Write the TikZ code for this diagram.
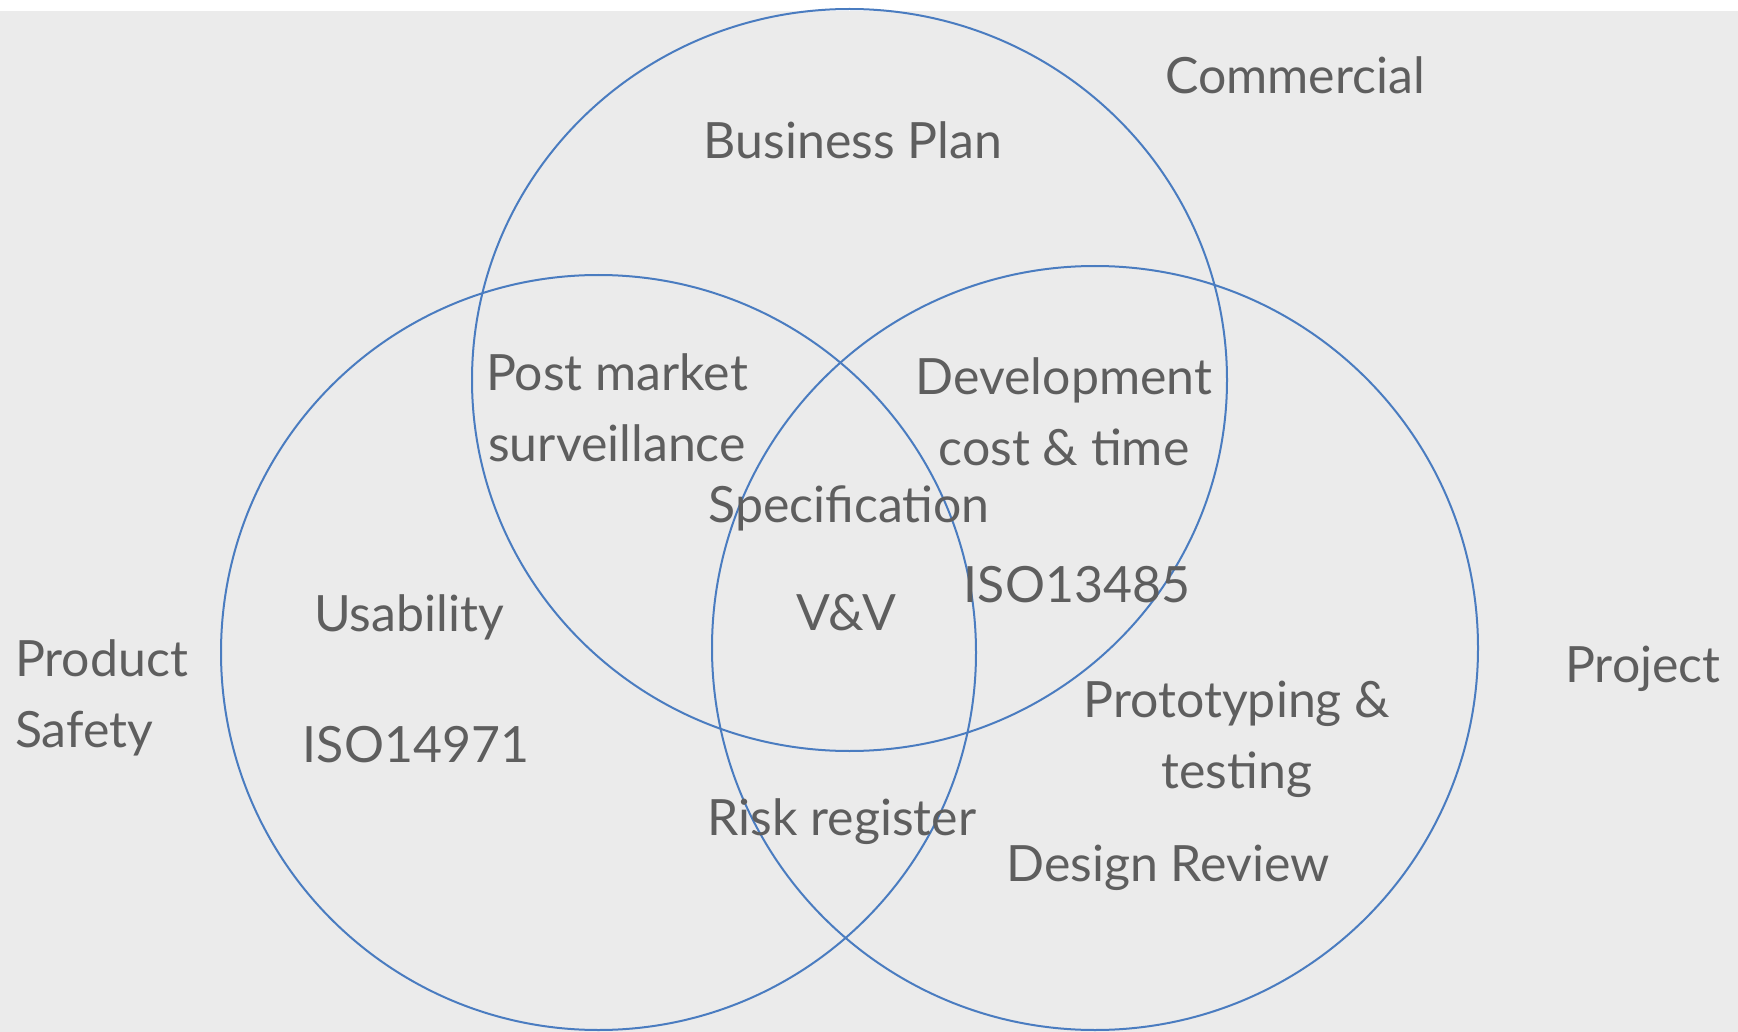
\documentclass[tikz,border=0pt]{standalone}
\usepackage{fontspec}
\setmainfont{Lato}
\begin{document}
\begin{tikzpicture}[x=1pt,y=-1pt,
  venn/.style={draw=vennblue,line width=2pt},
  lbl/.style={text=txtgray,font=\fontsize{50}{71}\selectfont,anchor=base,inner sep=0pt,align=center}]
\definecolor{vennblue}{HTML}{4A7CC0}
\definecolor{txtgray}{HTML}{5E5E5E}
\definecolor{bggray}{HTML}{EBEBEB}
\useasboundingbox (0,0) rectangle (1738,1032);
\fill[white] (0,0) rectangle (1738,1032);
\fill[bggray] (0,11) rectangle (1738,1032);
% circles
\draw[venn] (849.5,380) ellipse [x radius=377.5pt, y radius=371pt];
\draw[venn] (598.5,652.5) ellipse [x radius=377.5pt, y radius=377.5pt];
\draw[venn] (1095,648) ellipse [x radius=383pt, y radius=382pt];
% labels (multi-line nodes: base = baseline of last line)
\node[lbl] (commercial) at (1295,94) {Commercial};
\node[lbl,anchor=base west,align=left] (safety) at (15,747) {Product\\Safety};
\node[lbl] (project) at (1643,682) {Project};
\node[lbl] (bplan) at (853,159) {Business Plan};
\node[lbl] (pms) at (617,461) {Post market\\surveillance};
\node[lbl] (dev) at (1064,465) {Development\\cost \& time};
\node[lbl] (spec) at (849,522) {Specification};
\node[lbl] (iso13485) at (1077,602) {ISO13485};
\node[lbl] (usab) at (409,631) {Usability};
\node[lbl] (vv) at (846,630) {V\&V};
\node[lbl] (iso14971) at (416,762) {ISO14971};
\node[lbl] (proto) at (1237,788) {Prototyping \&\\testing};
\node[lbl] (risk) at (842,835) {Risk register};
\node[lbl] (review) at (1168,881) {Design Review};
\end{tikzpicture}
\end{document}
